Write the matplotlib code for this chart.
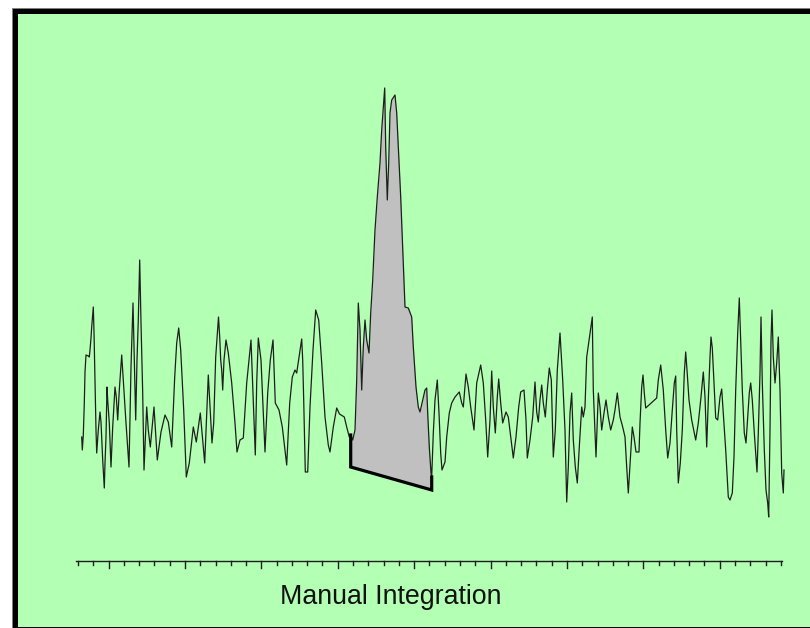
import numpy as np
import matplotlib
matplotlib.use("Agg")
import matplotlib.pyplot as plt
from matplotlib.patches import Rectangle

# chromatogram trace: scan position and detector response (counts)
scan = np.array([
    5.7, 6.3, 7.3, 8.3, 9, 10, 12.3, 13.3, 14, 15, 15.7, 17.3, 18, 19, 20, 20.7, 22.3, 24, 25, 26.7,
    28.3, 29, 30, 31, 31.7, 33.3, 35, 36.7, 39, 40.3, 41.7, 43.3, 45.7, 47.7, 50, 53, 55, 57, 58.3, 59.7,
    61, 62.3, 63.7, 65, 66.7, 68, 69.3, 70.7, 72.3, 74.3, 78, 81.3, 85, 89, 92.3, 95.7, 98.7, 100.7, 102.7, 104.7,
    107.7, 110.3, 113.3, 117.3, 120.3, 124.3, 128.7, 132.3, 134, 136, 137.7, 139.7, 142.5, 143.7, 144.7, 145.7, 146.7, 148, 150, 152.3,
    155.7, 159, 161, 164, 167.3, 170.7, 175, 177.3, 179.3, 180.7, 182.3, 185, 187.7, 189, 191.7, 194.3, 197, 198, 199.3, 203,
    206.3, 210.7, 213.7, 216.3, 219, 220.7, 223.7, 225.7, 226.7, 227.7, 229.3, 231.7, 234, 237, 239.7, 242.7, 245.7, 249, 252.3, 254,
    257.3, 260.7, 263.5, 268.3, 270.7, 273.3, 274.7, 276.7, 279, 280.7, 282.3, 284, 285.7, 287.3, 289, 290.7, 293, 294.7, 296.7, 299,
    301.3, 304, 305.7, 307.3, 308.7, 309.7, 311.3, 312.7, 314, 315.7, 319, 320.7, 322.3, 324.7, 326.7, 329, 332.3, 335.7, 337.3, 340,
    342.3, 344, 346.7, 349, 350.7, 351.7, 353.3, 355, 355.7, 357.3, 359, 361.3, 363, 364.7, 366, 369, 370.7, 373.3, 375.7, 379,
    383.3, 385.7, 387.3, 390, 392.3, 394.7, 398, 400.7, 404.7, 407.3, 409.7, 411.7, 414, 415.7, 417.3, 419.3, 421.3, 422.7, 424.7, 426.7,
    430, 432.3, 434.7, 437.3, 440, 442.7, 444.7, 448, 450, 451.3, 454, 456.7, 459, 460.7, 462.3, 464, 465.7, 467.3, 469.3, 471.3,
    473.3, 475.3, 477.3, 479.3, 481.3, 484, 486.7, 489, 490.7, 492.3, 494, 495.7, 497.3, 499.3, 501.3, 503.3, 505.7, 507.3, 509, 510.7,
    514, 516.3, 517.3, 520, 522.3, 524, 525.7, 528, 530, 532.3, 534.7, 537.3, 539, 541.3, 544, 546.7, 549, 550.7, 552.3, 554.7,
    556.3, 558, 560, 563, 564, 565.7, 567, 568.3, 569.7, 580.7, 582.3, 584.7, 587.3, 589.7, 591.7, 594, 596.3, 598.3, 599.7, 600.7,
    602.3, 604.3, 606.3, 608.3, 609.7, 611, 613, 615.7, 619.7, 622.3, 625, 627.3, 629, 630.7, 632.3, 634, 635, 636.3, 638, 639.7,
    641.7, 644, 645.7, 647.3, 649.7, 652.3, 654, 656.3, 658, 659.7, 661.7, 663.3, 665, 666.3, 668.3, 670, 671.7, 673.3, 674.7, 676.3,
    678.3, 681, 682.3, 684, 685, 686.3, 688.3, 690, 691.7, 692.7, 694, 695, 696, 697.3, 699, 700.7, 702.3, 704, 705.7, 707.3,
    708,
])
response = np.array([
    124, 111, 126, 158, 189, 206, 205, 204, 211, 223, 234, 254, 229, 178, 131, 108, 131, 149, 139, 101,
    73, 98, 124, 174, 161, 138, 94, 134, 174, 164, 141, 171, 206, 174, 138, 94, 194, 258, 201, 141,
    201, 241, 301, 238, 168, 91, 121, 154, 131, 114, 154, 101, 129, 146, 139, 114, 184, 218, 233, 211,
    151, 84, 98, 134, 119, 148, 98, 186, 154, 118, 138, 204, 244, 224, 201, 191, 171, 201, 221, 208,
    178, 138, 109, 121, 123, 178, 221, 158, 106, 178, 223, 201, 138, 109, 168, 201, 221, 194, 158, 151,
    134, 96, 158, 184, 191, 188, 208, 222, 201, 161, 89, 89, 154, 211, 251, 241, 198, 144, 116, 109,
    134, 153, 147, 144, 134, 124, 126, 121, 131, 181, 258, 231, 171, 214, 241, 221, 208, 248, 281, 331,
    364, 398, 431, 454, 473, 414, 361, 398, 448, 461, 466, 448, 414, 364, 314, 254, 253, 244, 214, 174,
    154, 149, 161, 171, 173, 148, 114, 88, 84, 128, 161, 181, 148, 108, 91, 99, 124, 148, 158, 164,
    169, 158, 154, 187, 174, 154, 131, 178, 196, 178, 141, 104, 141, 190, 154, 128, 164, 182, 158, 138,
    149, 144, 124, 103, 124, 154, 169, 171, 141, 103, 121, 144, 179, 149, 139, 161, 176, 158, 144, 171,
    193, 181, 104, 131, 191, 228, 181, 131, 59, 94, 148, 168, 121, 94, 78, 114, 154, 144, 154, 204,
    228, 244, 171, 104, 168, 154, 131, 148, 161, 144, 131, 141, 151, 168, 144, 134, 124, 94, 68, 108,
    134, 124, 109, 109, 138, 174, 186, 168, 153, 163, 181, 196, 171, 131, 103, 118, 151, 178, 185, 131,
    78, 98, 131, 188, 209, 191, 161, 141, 121, 138, 164, 189, 164, 114, 161, 204, 224, 213, 178, 143,
    141, 164, 172, 148, 111, 64, 61, 68, 104, 171, 228, 263, 211, 171, 128, 118, 144, 168, 178, 161,
    128, 89, 128, 188, 244, 178, 111, 71, 58, 44, 131, 221, 251, 204, 178, 198, 224, 171, 88, 68,
    91,
])

# manual integration window and drawn baseline levels at each end
int_start, int_end = 274.7, 355.7
base_start, base_end = 94, 71

label = "Manual Integration"

green = "#b3ffb3"
W, H = 810, 628
fig = plt.figure(figsize=(W / 100, H / 100), dpi=100, facecolor="white")

# panel background and frame
def frect(x0, y0, x1, y1, color):
    fig.patches.append(Rectangle((x0 / W, 1 - y1 / H), (x1 - x0) / W, (y1 - y0) / H,
                                 transform=fig.transFigure, facecolor=color,
                                 edgecolor="none", zorder=-5))

frect(12, 8, W, H, "#7f7f7f")
frect(13, 9, W, H, "black")
frect(17.5, 14, W, 627, green)

ax = fig.add_axes([0, 0, 1, 1])
ax.set_zorder(1)
ax.set_facecolor("none")
ax.set_xlim(-76, W - 76)
ax.set_ylim(-(H - 561), 561)
ax.axis("off")

# integrated area
m = (scan >= int_start) & (scan <= int_end)
xs = scan[m]
base = np.interp(xs, [int_start, int_end], [base_start, base_end])
ax.fill_between(xs, response[m], base, color="#c0c0c0", lw=0, zorder=2)

ax.plot(scan, response, color="#1e1e1e", lw=0.9, zorder=3)

y_s = np.interp(int_start, scan, response)
y_e = np.interp(int_end, scan, response)
ax.plot([int_start, int_start, int_end, int_end], [y_s, base_start, base_end, y_e],
        color="black", lw=2.3, solid_joinstyle="miter", zorder=4)

# x axis with minor / major ticks
ax.plot([0, 706], [0, 0], color="#1e1e1e", lw=1.0, zorder=3)
ticks = 2 + 15.28 * np.arange(47)
for k, t in enumerate(ticks):
    ln = 7 if k % 5 == 2 else 3.5
    ax.plot([t, t], [0, -ln], color="#1e1e1e", lw=1.0, zorder=3)

ax.text(315, -43, label, ha="center", va="baseline", fontsize=19.3,
        family="Liberation Sans", color="#111111")

fig.savefig("out.png", dpi=100, facecolor="white")
